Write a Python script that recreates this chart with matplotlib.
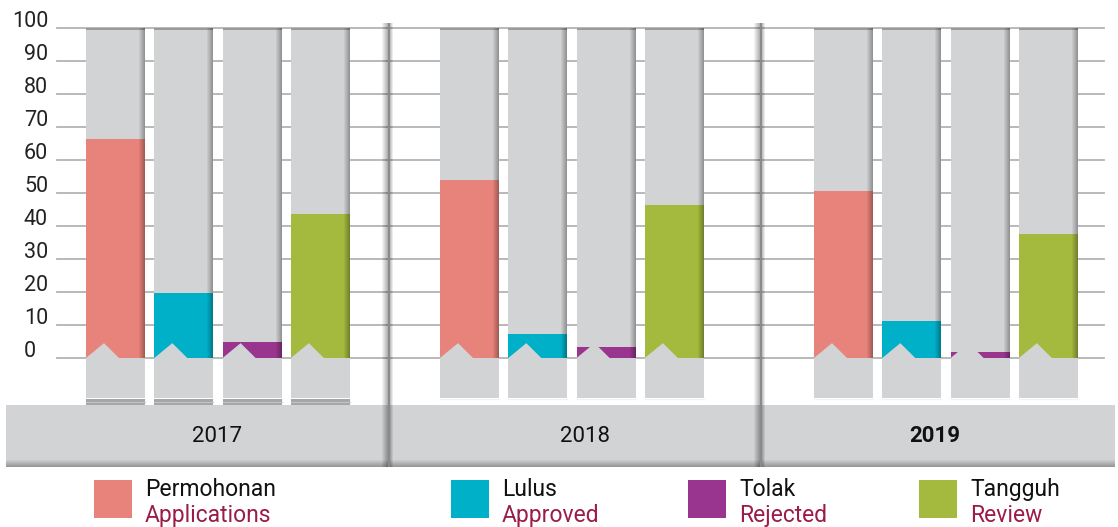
import numpy as np
import matplotlib.pyplot as plt
from matplotlib.patches import Rectangle, Polygon

plt.rcParams['font.family'] = ['Roboto', 'DejaVu Sans']

# data
years = ["2017", "2018", "2019"]
names_my = ["Permohonan", "Lulus", "Tolak", "Tangguh"]
names_en = ["Applications", "Approved", "Rejected", "Review"]
colors = ["#e8837b", "#00b0c8", "#99358f", "#a3ba3f"]

applications = [66.3, 54.0, 50.6]
approved = [19.8, 7.4, 11.3]
rejected = [4.7, 3.2, 1.7]
review = [43.5, 46.4, 37.7]
yticks = [0, 10, 20, 30, 40, 50, 60, 70, 80, 90, 100]

values = [applications, approved, rejected, review]

GRAY = "#d1d3d4"
EN_COL = "#9b1b4a"

# pixel -> data helpers (0 at px 358, 100 at px 28)
PPU = 3.3
def y_of(px):
    return (358 - px) / PPU

fig = plt.figure(figsize=(11.18, 5.27), dpi=100)
ax = fig.add_axes([0, 0, 1, 1])
ax.set_xlim(0, 1118)
ax.set_ylim(y_of(527), y_of(0))
ax.axis('off')

# gridlines + labels
for t in yticks:
    ax.plot([57, 1104], [t, t], color="#b3b3b3", lw=1.3, zorder=1)
    ax.text(12 if t == 100 else 24, t + 0.4, str(t), fontsize=15.5, color="#222222",
            ha='left', va='baseline', zorder=5)

# year band
ax.add_patch(Rectangle((6, y_of(467)), 1109, y_of(405) - y_of(467),
                       color=GRAY, lw=0, zorder=1))
for k in range(7):
    ax.add_patch(Rectangle((6, y_of(467 - k)), 1109, 1 / PPU,
                           color="black", alpha=0.06 * (7 - k) / 1.5, lw=0, zorder=1.1))

# separators
for sx in [388, 760]:
    for k in range(6):
        ax.add_patch(Rectangle((sx - k - 1, y_of(467)), 1, y_of(23) - y_of(467),
                               color="black", alpha=0.05 * (6 - k), lw=0, zorder=1.2))
    ax.add_patch(Rectangle((sx, y_of(467)), 2, y_of(23) - y_of(467),
                           color="#8a8a8a", lw=0, zorder=1.2))
    for k in range(3):
        ax.add_patch(Rectangle((sx + 2 + k, y_of(467)), 1, y_of(23) - y_of(467),
                               color="black", alpha=0.08 * (3 - k), lw=0, zorder=1.2))

# bars
group_left = [86, 440, 814]
pitch = 68.3
width = 59
for g in range(len(years)):
    for s in range(len(values)):
        x0 = group_left[g] + s * pitch
        v = values[s][g]
        # gray background
        ax.bar(x0, 100, width=width, bottom=0, align='edge', color=GRAY, lw=0, zorder=2)
        ax.bar(x0, 0.7, width=width, bottom=99.3, align='edge', color="#9a9a9a", lw=0, zorder=2.1)
        # value bar
        ax.bar(x0, v, width=width, bottom=0, align='edge', color=colors[s], lw=0, zorder=3)
        # right edge shading
        for k in range(6):
            ax.bar(x0 + width - 6 + k, 100, width=1, bottom=0, align='edge',
                   color="black", alpha=0.05 * (k + 1), lw=0, zorder=3.2)
        # base below zero
        ax.bar(x0, y_of(358) - y_of(398), width=width, bottom=y_of(398), align='edge',
               color=GRAY, lw=0, zorder=3.5)
        ax.plot([x0, x0 + width], [y_of(398.5)] * 2, color="#f2f2f2", lw=0.8, zorder=3.5)
        if g == 0:
            ax.bar(x0, y_of(399) - y_of(405), width=width, bottom=y_of(405), align='edge',
                   color="#a6a6a6", lw=0, zorder=3.5)
            ax.plot([x0, x0 + width], [y_of(401.5)] * 2, color="#c4c4c4", lw=0.8, zorder=3.55)
        # notch
        ax.add_patch(Polygon([(x0, 0), (x0 + 18, 4.5), (x0 + 33, 0)],
                             closed=True, color=GRAY, lw=0, zorder=3.6))

# year labels
year_x = [217, 585, 935]
for i, yr in enumerate(years):
    ax.text(year_x[i], y_of(436), yr, fontsize=16, color="#111111",
            ha='center', va='center', fontweight='bold' if yr == "2019" else 'normal', zorder=6)

# legend
leg_x = [94, 451, 688, 919]
for i in range(len(names_my)):
    ax.add_patch(Rectangle((leg_x[i], y_of(518)), 38, y_of(480) - y_of(518),
                           color=colors[i], lw=0, zorder=5))
    ax.text(leg_x[i] + 51, y_of(496), names_my[i], fontsize=16.5, color="#111111",
            ha='left', va='baseline', zorder=6)
    ax.text(leg_x[i] + 51, y_of(522), names_en[i], fontsize=16.5, color=EN_COL,
            ha='left', va='baseline', zorder=6)

fig.savefig("out.png", dpi=100)
